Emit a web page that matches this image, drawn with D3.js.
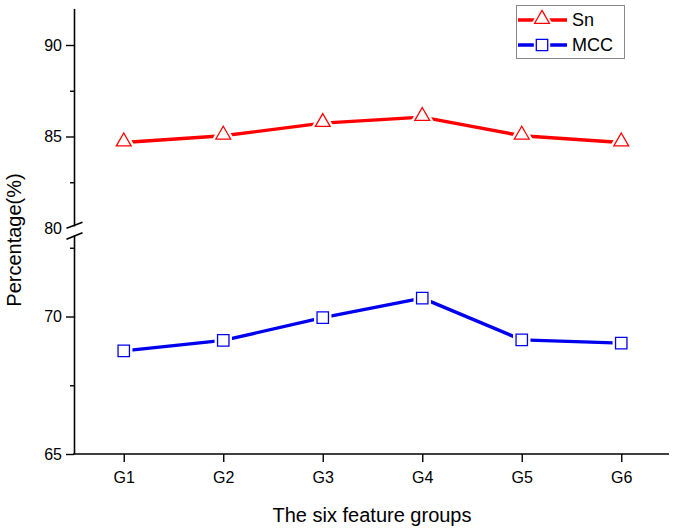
<!DOCTYPE html>
<html>
<head>
<meta charset="utf-8">
<script src="https://cdn.jsdelivr.net/npm/d3@7"></script>
<style>
  html, body { margin: 0; padding: 0; background: #fff; }
  svg text { font-family: "Liberation Sans", Arial, sans-serif; fill: #000; }
</style>
</head>
<body>
<svg id="chart" width="680" height="531"></svg>
<script>
const groups = ["G1", "G2", "G3", "G4", "G5", "G6"];
const snValues = [84.67, 85.04, 85.73, 86.06, 85.04, 84.67];
const mccValues = [68.75, 69.13, 69.96, 70.67, 69.15, 69.03];
const upperTicks = [80, 85, 90];
const upperMinor = [82.5, 87.5];
const lowerTicks = [65, 70];
const lowerMinor = [67.5, 72.5];
const seriesNames = ["Sn", "MCC"];
const xTitle = "The six feature groups";
const yTitle = "Percentage(%)";

const svg = d3.select("#chart");
const axisX = 74, axisRight = 669, axisBottom = 454;

const x = d3.scalePoint().domain(groups).range([axisX, 671]).padding(0.5);
const yUp = d3.scaleLinear().domain([80, 92]).range([228, 8.4]);
const yLo = d3.scaleLinear().domain([65, 73]).range([axisBottom, 234]);

const red = "#ff0000", blue = "#0000ee";

// X axis
const gx = svg.append("g").attr("transform", `translate(0,${axisBottom})`)
  .call(d3.axisBottom(x).tickSize(8).tickSizeOuter(0).tickPadding(6));
gx.select(".domain").remove();
svg.append("line").attr("x1", axisX - 1).attr("x2", axisRight).attr("y1", axisBottom).attr("y2", axisBottom)
  .attr("stroke", "#000").attr("stroke-width", 1.6);
gx.selectAll(".tick line").attr("stroke", "#000").attr("stroke-width", 1.4);
gx.selectAll(".tick text").attr("font-size", 16).attr("dy", "0.95em");

// Y axes (upper and lower segments)
function yAxis(scale, major, minor) {
  const g = svg.append("g").attr("transform", `translate(${axisX},0)`)
    .call(d3.axisLeft(scale).tickValues(major).tickSize(8).tickSizeOuter(0).tickPadding(4).tickFormat(d3.format("d")));
  g.select(".domain").attr("stroke", "#000").attr("stroke-width", 1.6);
  g.selectAll(".tick line").attr("stroke", "#000").attr("stroke-width", 1.4);
  g.selectAll(".tick text").attr("font-size", 16);
  const gm = svg.append("g").attr("transform", `translate(${axisX},0)`)
    .call(d3.axisLeft(scale).tickValues(minor).tickSize(4).tickFormat(""));
  gm.select(".domain").remove();
  gm.selectAll(".tick line").attr("stroke", "#000").attr("stroke-width", 1.4);
  return g;
}
const gUp = yAxis(yUp, upperTicks, upperMinor);
gUp.selectAll(".tick").filter(d => d === 80).select("line").remove();
yAxis(yLo, lowerTicks, lowerMinor);

// axis break
svg.append("rect").attr("x", axisX - 3).attr("y", 226.5).attr("width", 6).attr("height", 9).attr("fill", "#fff");
[[228.3, 222.3], [239.3, 232.7]].forEach(([ya, yb]) => {
  svg.append("line").attr("x1", 66.5).attr("y1", ya).attr("x2", 82.5).attr("y2", yb)
    .attr("stroke", "#000").attr("stroke-width", 1.6);
});

// titles
svg.append("text").attr("x", 372).attr("y", 522).attr("text-anchor", "middle").attr("font-size", 20).text(xTitle);
svg.append("text").attr("transform", "translate(21,240) rotate(-90)").attr("text-anchor", "middle")
  .attr("font-size", 20).text(yTitle);

// series
const tri = d3.symbol().type(d3.symbolTriangle).size(95);
const sq = d3.symbol().type(d3.symbolSquare).size(130);
function drawSeries(vals, scale, color, symbol, yOff) {
  const pts = vals.map((v, i) => [x(groups[i]), scale(v)]);
  svg.append("path").attr("d", d3.line()(pts)).attr("fill", "none")
    .attr("stroke", color).attr("stroke-width", 3.4).attr("stroke-linejoin", "round");
  svg.selectAll(null).data(pts).enter().append("path")
    .attr("transform", d => `translate(${d[0]},${d[1] + yOff})`)
    .attr("d", symbol).attr("fill", "#fff").attr("stroke", "#fff").attr("stroke-width", 6);
  svg.selectAll(null).data(pts).enter().append("path")
    .attr("transform", d => `translate(${d[0]},${d[1] + yOff})`)
    .attr("d", symbol).attr("fill", "#fff").attr("stroke", color).attr("stroke-width", 1.3);
}
drawSeries(snValues, yUp, red, tri, -1);
drawSeries(mccValues, yLo, blue, sq, 0);

// legend
svg.append("rect").attr("x", 516.5).attr("y", 5.5).attr("width", 108).attr("height", 53)
  .attr("fill", "#fff").attr("stroke", "#888").attr("stroke-width", 1);
const legendSym = [tri, sq], legendCol = [red, blue];
seriesNames.forEach((name, i) => {
  const cy = 20 + i * 25;
  svg.append("line").attr("x1", 518).attr("x2", 567).attr("y1", cy).attr("y2", cy)
    .attr("stroke", legendCol[i]).attr("stroke-width", 3.4);
  svg.append("path").attr("transform", `translate(542,${cy - (i === 0 ? 1 : 0)})`).attr("d", legendSym[i])
    .attr("fill", "#fff").attr("stroke", "#fff").attr("stroke-width", 5);
  svg.append("path").attr("transform", `translate(542,${cy - (i === 0 ? 1 : 0)})`).attr("d", legendSym[i])
    .attr("fill", "#fff").attr("stroke", legendCol[i]).attr("stroke-width", 1.3);
  svg.append("text").attr("x", 572).attr("y", cy).attr("dy", "0.36em").attr("font-size", 18).text(name);
});
</script>
</body>
</html>
